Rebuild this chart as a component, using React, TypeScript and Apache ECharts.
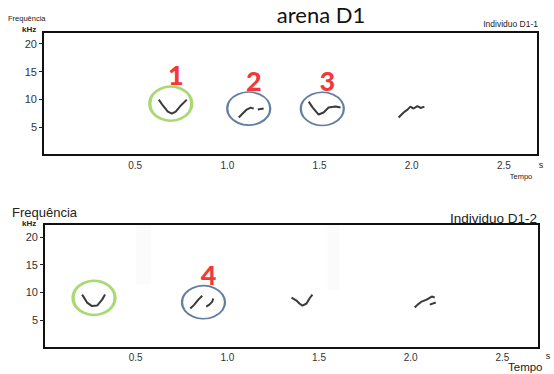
import React, { useEffect, useRef } from "react";
import * as echarts from "echarts";

// Spectrogram traces (time in s, frequency in kHz) — individual D1-1
const d1aCall1 = [[0.628, 9.95], [0.65, 8.9], [0.677, 7.8], [0.699, 7.45], [0.72, 7.8], [0.748, 8.9], [0.78, 9.95]];
const d1aCall2a = [[1.062, 6.73], [1.083, 7.45], [1.105, 8.16], [1.127, 8.52], [1.143, 8.34]];
const d1aCall2b = [[1.165, 8.16], [1.197, 8.34]];
const d1aCall3 = [[1.441, 9.59], [1.463, 8.52], [1.495, 7.27], [1.522, 7.63], [1.549, 8.52], [1.587, 8.7], [1.614, 8.52]];
const d1aCall4 = [[1.929, 6.73], [1.956, 7.63], [1.977, 8.16], [1.993, 8.7], [2.01, 8.35], [2.031, 8.79], [2.048, 8.45], [2.069, 8.7]];

// Spectrogram traces — individual D1-2
const d1bCall1 = [[0.208, 9.6], [0.235, 8.17], [0.262, 7.54], [0.29, 7.63], [0.317, 8.7], [0.333, 9.6]];
const d1bCall2a = [[0.798, 7.1], [0.82, 7.8], [0.842, 8.7], [0.863, 9.4]];
const d1bCall2b = [[0.885, 7.45], [0.902, 7.8], [0.918, 8.35], [0.923, 8.9]];
const d1bCall3 = [[1.35, 9.07], [1.377, 8.53], [1.393, 8.0], [1.41, 7.63], [1.432, 8.0], [1.448, 8.9], [1.464, 9.6]];
const d1bCall4a = [[2.022, 7.27], [2.038, 7.8], [2.06, 8.35], [2.087, 8.7], [2.115, 9.25], [2.131, 9.07]];
const d1bCall4b = [[2.104, 7.8], [2.137, 8.17]];

// Faint broadband streaks in the second recording [t0, f0, t1, f1]
const d1bStreaks = [[0.503, 11.4, 0.585, 22.3], [1.546, 10.5, 1.612, 22.3]];

// Circled syllables: centre (t, f), number, ring colour key
const topRings = [[0.693, 9.23], [1.116, 8.34], [1.515, 8.29]];
const topRingNumbers = ["1", "2", "3"];
const topRingKinds = ["green", "blue", "blue"];
const bottomRings = [[0.273, 9.01], [0.87, 8.23]];
const bottomRingNumbers = ["", "4"];
const bottomRingKinds = ["green", "blue"];

// Axis ticks
const freqTicks = [5, 10, 15, 20];
const timeTicks = [0.5, 1.0, 1.5, 2.0, 2.5];

const FONT = "Liberation Sans, Arial, sans-serif";
const TRACE = "#3a3a3a";

const ringStyle: Record<string, { color: string; width: number; size: number[] }> = {
  green: { color: "#92d050", width: 3, size: [42, 34] },
  blue: { color: "#3b5f8c", width: 2, size: [43, 33] },
};

function traceSeries(strokes: number[][][], axis: number) {
  return strokes.map((s) => ({
    type: "line",
    xAxisIndex: axis,
    yAxisIndex: axis,
    data: s,
    showSymbol: false,
    silent: true,
    lineStyle: { color: TRACE, width: 2 },
    z: 3,
  }));
}

function ringSeries(centres: number[][], numbers: string[], kinds: string[], axis: number) {
  return {
    type: "scatter",
    xAxisIndex: axis,
    yAxisIndex: axis,
    silent: true,
    z: 4,
    data: centres.map((c, i) => {
      const st = ringStyle[kinds[i]];
      return {
        value: c,
        symbolSize: st.size,
        itemStyle: { color: "rgba(0,0,0,0)", borderColor: st.color, borderWidth: st.width },
        label: {
          show: numbers[i] !== "",
          formatter: numbers[i],
          position: "top",
          distance: 0,
          offset: [5, 3],
          color: "#f20000",
          fontSize: 27,
          fontWeight: 900,
          fontFamily: "Lato, Liberation Sans, sans-serif",
        },
      };
    }),
  };
}

function yAxis(grid: number, max: number) {
  return {
    type: "value",
    gridIndex: grid,
    min: 0,
    max,
    splitLine: { show: false },
    axisLine: { show: true, lineStyle: { color: "#111", width: 2 } },
    axisTick: { show: true, length: 4, customValues: freqTicks, lineStyle: { color: "#222", width: 1 } },
    axisLabel: { customValues: freqTicks, margin: 6, color: "#333", fontSize: 11, fontFamily: FONT },
  };
}

function xAxis(grid: number, max: number, margin: number) {
  return {
    type: "value",
    gridIndex: grid,
    min: 0,
    max,
    splitLine: { show: false },
    axisLine: { show: true, lineStyle: { color: "#111", width: 2 } },
    axisTick: { show: false },
    axisLabel: {
      customValues: timeTicks,
      formatter: (v: number) => v.toFixed(1),
      margin,
      color: "#333",
      fontSize: 10,
      fontFamily: FONT,
    },
  };
}

export default function App() {
  const ref = useRef<HTMLDivElement>(null);

  useEffect(() => {
    if (!ref.current) return;
    const chart = echarts.init(ref.current, null, { renderer: "svg" });

    const txt = (x: number, y: number, text: string, size: number, extra: any = {}) => ({
      type: "text",
      x,
      y,
      style: { text, fontSize: size, fontFamily: FONT, fill: "#222", ...extra },
    });

    chart.setOption({
      animation: false,
      backgroundColor: "#ffffff",
      grid: [
        { left: 43, top: 32, right: 16, height: 123, show: true, borderColor: "#111", borderWidth: 2 },
        { left: 44, top: 224, right: 15, height: 124, show: true, borderColor: "#111", borderWidth: 2 },
      ],
      xAxis: [xAxis(0, 2.685, 5), xAxis(1, 2.7, 4)],
      yAxis: [yAxis(0, 22.1), yAxis(1, 22.3)],
      series: [
        ...traceSeries([d1aCall1, d1aCall2a, d1aCall2b, d1aCall3, d1aCall4], 0),
        ...traceSeries([d1bCall1, d1bCall2a, d1bCall2b, d1bCall3, d1bCall4a, d1bCall4b], 1),
        {
          type: "line",
          xAxisIndex: 1,
          yAxisIndex: 1,
          data: [],
          silent: true,
          markArea: {
            silent: true,
            itemStyle: { color: "rgba(0,0,0,0.015)" },
            data: d1bStreaks.map((s) => [
              { coord: [s[0], s[1]] },
              { coord: [s[2], s[3]] },
            ]),
          },
        },
        ringSeries(topRings, topRingNumbers, topRingKinds, 0),
        ringSeries(bottomRings, bottomRingNumbers, bottomRingKinds, 1),
      ],
      graphic: [
        txt(321, 14, "arena D1", 22, {
          align: "center",
          verticalAlign: "middle",
          fontFamily: "Lato, Open Sans, sans-serif",
          fill: "#111",
        }),
        txt(8, 18, "Frequência", 7.5, { verticalAlign: "middle" }),
        txt(22, 29, "kHz", 8, { verticalAlign: "middle", fontWeight: "bold" }),
        txt(538, 24, "Individuo D1-1", 8.5, { align: "right", verticalAlign: "middle" }),
        txt(541, 165, "s", 9, { align: "center", verticalAlign: "middle" }),
        txt(521, 176, "Tempo", 7.5, { align: "center", verticalAlign: "middle" }),
        txt(12, 212, "Frequência", 13, { verticalAlign: "middle" }),
        txt(22, 223, "kHz", 8, { verticalAlign: "middle", fontWeight: "bold" }),
        txt(537, 218, "Individuo D1-2", 13.5, { align: "right", verticalAlign: "middle" }),
        txt(548, 356, "s", 9, { align: "center", verticalAlign: "middle" }),
        txt(508, 367, "Tempo", 11.5, { verticalAlign: "middle" }),
      ],
    });

    return () => chart.dispose();
  }, []);

  return (
    <div
      ref={ref}
      style={{ position: "fixed", left: 0, top: 0, width: 554, height: 374, background: "#fff" }}
    />
  );
}
